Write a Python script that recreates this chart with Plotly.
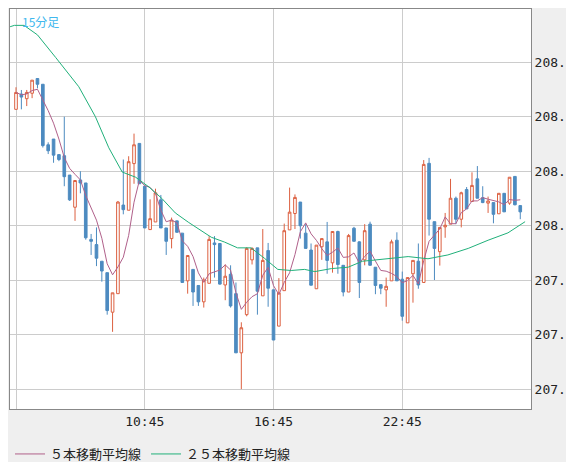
import pandas as pd
import plotly.graph_objects as go

# 15-minute candles (index 0 = 4:45)
opens = [208.427, 208.483, 208.466, 208.486, 208.540, 208.519, 208.297, 208.318, 208.261, 208.257,
         208.186, 208.068, 208.168, 208.157, 207.950, 207.931, 207.870, 207.828, 207.683, 207.751,
         208.076, 208.057, 208.228, 208.302, 208.145, 207.986, 208.014, 208.095, 207.992, 207.953,
         208.018, 207.973, 207.798, 207.840, 207.781, 207.721, 207.789, 207.937, 207.935, 207.783,
         207.822, 207.751, 207.534, 207.674, 207.875, 207.919, 207.743, 207.909, 207.765, 207.632,
         207.762, 207.985, 208.045, 208.087, 207.973, 207.911, 207.769, 207.923, 207.941, 207.864,
         207.979, 207.855, 207.757, 207.991, 207.941, 207.875, 208.006, 207.848, 207.784, 207.765,
         207.798, 207.947, 207.804, 207.644, 207.824, 207.870, 207.792, 208.229, 208.015, 207.905,
         207.996, 208.006, 208.101, 208.024, 208.133, 208.089, 208.172, 208.103, 208.083, 208.085,
         208.044, 208.119, 208.083, 208.181, 208.074]
closes = [208.489, 208.472, 208.489, 208.534, 208.519, 208.294, 208.275, 208.259, 208.243, 208.180,
          208.095, 208.166, 208.157, 207.956, 207.943, 207.881, 207.834, 207.689, 207.754, 208.087,
          208.059, 208.235, 208.297, 208.154, 207.992, 208.026, 208.121, 207.992, 207.943, 208.021,
          207.976, 207.792, 207.891, 207.757, 207.721, 207.801, 207.950, 207.931, 207.786, 207.815,
          207.706, 207.534, 207.626, 207.917, 207.917, 207.760, 207.873, 207.771, 207.581, 207.754,
          207.982, 208.050, 208.104, 208.000, 207.917, 207.782, 207.929, 207.953, 207.873, 207.979,
          207.858, 207.757, 207.964, 207.943, 207.792, 207.982, 207.855, 207.781, 207.771, 207.778,
          207.941, 207.798, 207.668, 207.810, 207.873, 207.783, 208.225, 208.024, 207.917, 207.994,
          208.002, 208.101, 208.024, 208.121, 208.062, 208.148, 208.101, 208.085, 208.091, 208.042,
          208.119, 208.051, 208.178, 208.077, 208.051]
highs = [208.508, 208.498, 208.498, 208.534, 208.540, 208.519, 208.306, 208.318, 208.261, 208.400,
         208.186, 208.166, 208.200, 208.157, 207.970, 207.994, 207.870, 207.828, 207.754, 208.091,
         208.243, 208.255, 208.338, 208.302, 208.145, 208.097, 208.136, 208.113, 207.992, 208.030,
         208.018, 207.973, 207.891, 207.840, 207.781, 207.810, 207.962, 207.962, 207.935, 207.858,
         207.855, 207.792, 207.646, 207.921, 207.921, 207.919, 207.988, 207.937, 207.765, 207.808,
         208.008, 208.140, 208.115, 208.087, 208.006, 207.935, 207.929, 207.953, 208.014, 207.979,
         207.982, 207.855, 207.970, 207.996, 207.943, 208.006, 208.015, 207.848, 207.784, 207.810,
         207.949, 207.976, 207.832, 207.810, 207.873, 207.935, 208.241, 208.249, 208.015, 207.994,
         208.047, 208.172, 208.107, 208.125, 208.142, 208.196, 208.219, 208.145, 208.107, 208.085,
         208.119, 208.119, 208.178, 208.181, 208.074]
lows = [208.427, 208.427, 208.439, 208.468, 208.504, 208.287, 208.263, 208.231, 208.237, 208.145,
        208.091, 208.018, 208.119, 207.949, 207.893, 207.852, 207.795, 207.674, 207.611, 207.751,
        208.042, 208.057, 208.154, 208.154, 207.992, 207.986, 208.014, 207.992, 207.893, 207.917,
        207.976, 207.792, 207.751, 207.706, 207.706, 207.700, 207.789, 207.810, 207.784, 207.727,
        207.700, 207.534, 207.401, 207.668, 207.858, 207.674, 207.743, 207.703, 207.581, 207.632,
        207.762, 207.985, 207.988, 207.953, 207.917, 207.782, 207.769, 207.875, 207.824, 207.828,
        207.824, 207.741, 207.757, 207.943, 207.735, 207.855, 207.855, 207.749, 207.749, 207.703,
        207.798, 207.798, 207.652, 207.644, 207.718, 207.769, 207.792, 207.964, 207.801, 207.854,
        207.956, 208.006, 208.006, 207.994, 208.062, 208.089, 208.101, 208.083, 208.047, 208.009,
        208.044, 208.051, 208.077, 208.075, 208.024]

# 25-bar moving average, read at points along the green line
ma25_pos = [-1.1, -0.3, 1.5, 4, 7.4, 11.7, 14.8, 17.3, 19.8, 22.3, 24.8, 27.2, 29.7, 32.2, 36.4,
            38.9, 41.3, 43.8, 46.3, 48.8, 51.3, 53.8, 55.7, 58.8, 61.9, 64.6, 66.2, 69.4, 73.1,
            76.8, 80.5, 84.3, 88, 91.7, 94.9]
ma25_val = [208.73, 208.735, 208.735, 208.70, 208.617, 208.51, 208.40, 208.286, 208.197, 208.178,
            208.142, 208.10, 208.047, 208.012, 207.958, 207.94, 207.919, 207.919, 207.881, 207.84,
            207.836, 207.84, 207.832, 207.843, 207.848, 207.87, 207.873, 207.879, 207.887, 207.879,
            207.893, 207.917, 207.947, 207.974, 208.015]

tick_pos = [0, 24, 48, 72]
tick_text = ["", "10:45", "16:45", "22:45"]
price_ticks = [207.4, 207.6, 207.8, 208.0, 208.2, 208.4, 208.6]

idx = list(range(len(closes)))
ma5 = pd.Series(closes).rolling(5, min_periods=1).mean()

red = "#dc6040"
blue = "#4d8bc0"
mono = "DejaVu Sans Mono"

fig = go.Figure()
fig.add_trace(go.Candlestick(
    x=idx, open=opens, high=highs, low=lows, close=closes,
    increasing=dict(line=dict(color=red, width=1), fillcolor="white"),
    decreasing=dict(line=dict(color=blue, width=1), fillcolor=blue),
    whiskerwidth=0, showlegend=False, hoverinfo="skip"))
fig.add_trace(go.Scatter(x=idx, y=ma5, mode="lines", name="５本移動平均線",
                         line=dict(color="#b0608a", width=1)))
fig.add_trace(go.Scatter(x=ma25_pos, y=ma25_val, mode="lines", name="２５本移動平均線",
                         line=dict(color="#20b07a", width=1)))

fig.update_layout(
    width=574, height=462,
    margin=dict(l=2, r=51, t=1, b=50),
    paper_bgcolor="#efefef", plot_bgcolor="white",
    font=dict(family=mono, size=13, color="#222"),
    legend=dict(orientation="h", x=0.0, y=-0.075, xanchor="left", yanchor="top",
                font=dict(family="Noto Sans CJK JP", size=13, color="#222"),
                bgcolor="rgba(0,0,0,0)", itemwidth=30, traceorder="normal"),
    xaxis=dict(range=[-1.12, 96.0], tickvals=tick_pos, ticktext=tick_text,
               showgrid=True, gridcolor="#cccccc", rangeslider=dict(visible=False),
               zeroline=False, ticks="", showline=True, linecolor="#888", mirror=True),
    yaxis=dict(range=[207.328, 208.795], tickvals=price_ticks, side="right",
               tickformat=".1f", showgrid=True, gridcolor="#cccccc", zeroline=False,
               ticks="", showline=True, linecolor="#888", mirror=True),
    annotations=[dict(text="15分足", x=0.02, y=0.995, xref="paper", yref="paper",
                      xanchor="left", yanchor="top", showarrow=False,
                      font=dict(family="Noto Sans CJK JP", size=12, color="#40b8ee"))],
)

fig.write_html("out.html")
